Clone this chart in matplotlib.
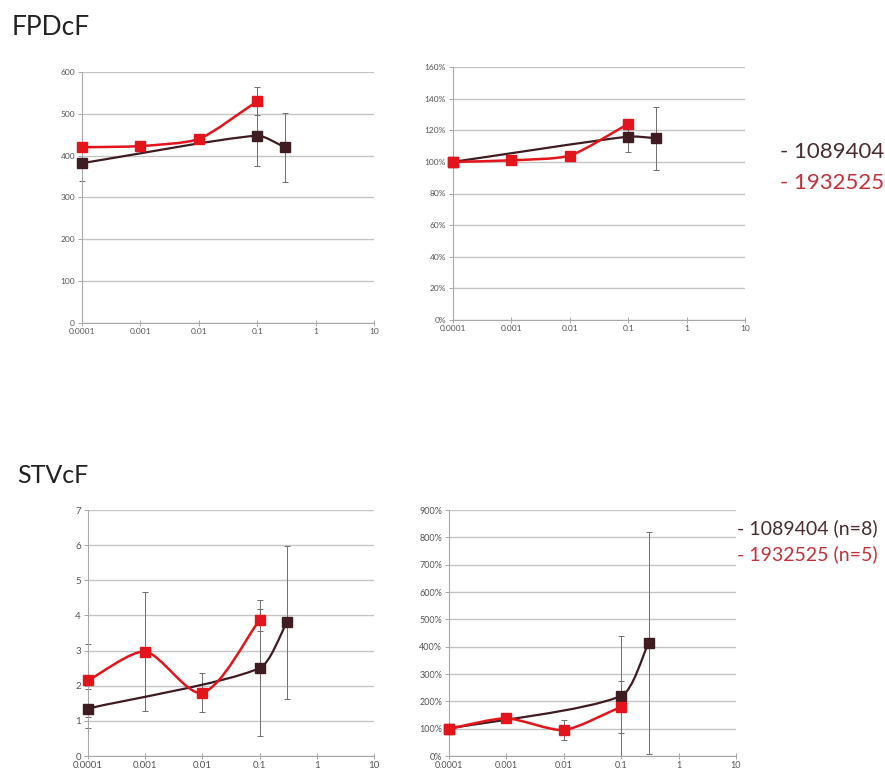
import numpy as np
import matplotlib
matplotlib.use("Agg")
import matplotlib.pyplot as plt
from matplotlib.path import Path
from matplotlib.patches import PathPatch

plt.rcParams['font.family'] = ['Lato', 'DejaVu Sans']

# Données
X_TICKS = [0.0001, 0.001, 0.01, 0.1, 1, 10]
X_LABELS = ["0.0001", "0.001", "0.01", "0.1", "1", "10"]

# FPDcF valeurs absolues
fpd_abs_dark_x = [0.0001, 0.1, 0.3]
fpd_abs_dark_y = [382, 448, 420]
fpd_abs_dark_err = [42, 73, 83]
fpd_abs_red_x = [0.0001, 0.001, 0.01, 0.1]
fpd_abs_red_y = [420, 423, 440, 530]
fpd_abs_red_err = [6, 5, 8, 33]

# FPDcF en %
fpd_pct_dark_x = [0.0001, 0.1, 0.3]
fpd_pct_dark_y = [100, 116, 115]
fpd_pct_dark_err = [0, 10, 20]
fpd_pct_red_x = [0.0001, 0.001, 0.01, 0.1]
fpd_pct_red_y = [100, 101, 104, 124]
fpd_pct_red_err = [0, 2, 2, 3]

# STVcF valeurs absolues
stv_abs_dark_x = [0.0001, 0.1, 0.3]
stv_abs_dark_y = [1.35, 2.5, 3.8]
stv_abs_dark_err = [0.55, 1.93, 2.18]
stv_abs_red_x = [0.0001, 0.001, 0.01, 0.1]
stv_abs_red_y = [2.15, 2.97, 1.8, 3.87]
stv_abs_red_err = [1.05, 1.7, 0.55, 0.3]

# STVcF en %
stv_pct_dark_x = [0.0001, 0.1, 0.3]
stv_pct_dark_y = [100, 220, 413]
stv_pct_dark_err = [0, 220, 405]
stv_pct_red_x = [0.0001, 0.001, 0.01, 0.1]
stv_pct_red_y = [100, 138, 95, 180]
stv_pct_red_err = [0, 12, 37, 95]

fpd_abs_yticks = [0, 100, 200, 300, 400, 500, 600]
fpd_pct_yticks = [0, 20, 40, 60, 80, 100, 120, 140, 160]
stv_abs_yticks = [0, 1, 2, 3, 4, 5, 6, 7]
stv_pct_yticks = [0, 100, 200, 300, 400, 500, 600, 700, 800, 900]

DARK = "#3e1c22"
RED = "#e3141c"
FIG_W, FIG_H = 885, 778


def smooth_line(ax, xs, ys, color, lw, box):
    # courbe lissée façon Excel (Bézier) calculée dans l'espace de l'axe
    (w, h) = box
    lx0, lx1 = np.log10(ax.get_xlim())
    y0, y1 = ax.get_ylim()
    u = (np.log10(xs) - lx0) / (lx1 - lx0) * w
    v = (np.asarray(ys, float) - y0) / (y1 - y0) * h
    P = np.column_stack([u, v])
    n = len(P)
    verts = [P[0]]
    codes = [Path.MOVETO]
    for i in range(n - 1):
        a = P[i - 1] if i > 0 else P[i]
        b = P[i + 2] if i + 2 < n else P[i + 1]
        d1 = P[i + 1] - a
        d2 = b - P[i]
        seg = np.hypot(*(P[i + 1] - P[i]))
        c1 = P[i] + d1 / np.hypot(*d1) * 0.22 * seg
        c2 = P[i + 1] - d2 / np.hypot(*d2) * 0.22 * seg
        verts += [c1, c2, P[i + 1]]
        codes += [Path.CURVE4] * 3
    verts = np.array(verts)
    px = 10 ** (verts[:, 0] / w * (lx1 - lx0) + lx0)
    py = verts[:, 1] / h * (y1 - y0) + y0
    ax.add_patch(PathPatch(Path(np.column_stack([px, py]), codes), fill=False,
                           ec=color, lw=lw, zorder=3, capstyle='round', clip_on=False))


def panel(rect, yticks, ylabels, dark, red, fs):
    ax = fig.add_axes(rect)
    ax.set_xscale("log")
    ax.set_xlim(1e-4, 10)
    ax.set_ylim(yticks[0], yticks[-1])
    ax.set_xticks(X_TICKS)
    ax.set_xticklabels(X_LABELS)
    ax.xaxis.set_minor_locator(matplotlib.ticker.NullLocator())
    ax.set_yticks(yticks)
    ax.set_yticklabels(ylabels)
    for s in ["top", "right"]:
        ax.spines[s].set_visible(False)
    for s in ["left", "bottom"]:
        ax.spines[s].set_color("#a8a8a8")
        ax.spines[s].set_linewidth(0.8)
    ax.grid(axis="y", color="#c4c4c4", lw=1.0)
    ax.set_axisbelow(True)
    ax.tick_params(axis="x", direction="inout", length=5, width=0.7, color="#a8a8a8",
                   labelsize=fs, labelcolor="#555555", pad=1)
    ax.tick_params(axis="y", direction="out", length=3, width=0.7, color="#a8a8a8",
                   labelsize=fs, labelcolor="#555555", pad=2)
    box = (rect[2] * FIG_W, rect[3] * FIG_H)
    for (xs, ys, err), col, lw in [(dark, DARK, 1.6), (red, RED, 1.8)]:
        eb = ax.errorbar(xs, ys, yerr=err, fmt="none", ecolor="#6e6e6e", elinewidth=0.7,
                         capsize=2.5, capthick=0.7, zorder=2)
        for art in eb.lines[1] + eb.lines[2]:
            art.set_clip_on(False)
    for (xs, ys, err), col, lw in [(dark, DARK, 1.6), (red, RED, 1.8)]:
        smooth_line(ax, xs, ys, col, lw, box)
        ax.plot(xs, ys, ls="none", marker="s", ms=6.5, color=col, mec=col, zorder=4,
                clip_on=False)
    return ax


fig = plt.figure(figsize=(FIG_W / 100, FIG_H / 100), dpi=100)

panel([82 / FIG_W, 1 - 323 / FIG_H, 292 / FIG_W, 251 / FIG_H],
      fpd_abs_yticks, [str(t) for t in fpd_abs_yticks],
      (fpd_abs_dark_x, fpd_abs_dark_y, fpd_abs_dark_err),
      (fpd_abs_red_x, fpd_abs_red_y, fpd_abs_red_err), 6)
panel([453 / FIG_W, 1 - 320 / FIG_H, 292 / FIG_W, 253 / FIG_H],
      fpd_pct_yticks, [f"{t}%" for t in fpd_pct_yticks],
      (fpd_pct_dark_x, fpd_pct_dark_y, fpd_pct_dark_err),
      (fpd_pct_red_x, fpd_pct_red_y, fpd_pct_red_err), 6)
panel([88 / FIG_W, 1 - 756 / FIG_H, 286 / FIG_W, 246 / FIG_H],
      stv_abs_yticks, [str(t) for t in stv_abs_yticks],
      (stv_abs_dark_x, stv_abs_dark_y, stv_abs_dark_err),
      (stv_abs_red_x, stv_abs_red_y, stv_abs_red_err), 7)
panel([449 / FIG_W, 1 - 756 / FIG_H, 287 / FIG_W, 246 / FIG_H],
      stv_pct_yticks, [f"{t}%" for t in stv_pct_yticks],
      (stv_pct_dark_x, stv_pct_dark_y, stv_pct_dark_err),
      (stv_pct_red_x, stv_pct_red_y, stv_pct_red_err), 6.5)

fig.text(12 / FIG_W, 1 - 35 / FIG_H, "FPDcF", fontsize=19, color="#222222", va="baseline")
fig.text(17 / FIG_W, 1 - 483 / FIG_H, "STVcF", fontsize=18, color="#222222", va="baseline")

fig.text(780 / FIG_W, 1 - 152 / FIG_H, "- 1089404", fontsize=16, color="#4a2c30", va="center")
fig.text(780 / FIG_W, 1 - 183 / FIG_H, "- 1932525", fontsize=16, color="#c4303a", va="center")
fig.text(737 / FIG_W, 1 - 528 / FIG_H, "- 1089404 (n=8)", fontsize=14, color="#4a2c30", va="center")
fig.text(737 / FIG_W, 1 - 554 / FIG_H, "- 1932525 (n=5)", fontsize=14, color="#c4303a", va="center")

fig.savefig("out.png", dpi=100)
